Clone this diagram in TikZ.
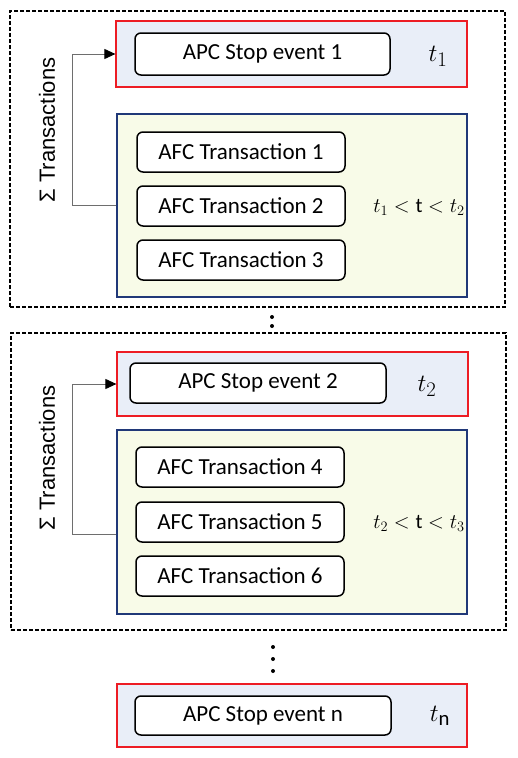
\documentclass[tikz,border=0pt]{standalone}
\usepackage{fontspec}
\setmainfont{Carlito}
\newfontfamily\sumfont{Liberation Sans}
\usepackage{tikz}
\usetikzlibrary{arrows.meta, positioning, calc}
\definecolor{stopred}{RGB}{237,28,36}
\definecolor{stopfill}{RGB}{233,238,248}
\definecolor{winblue}{RGB}{32,56,120}
\definecolor{winfill}{RGB}{248,251,232}
\definecolor{linkgray}{RGB}{110,110,110}

\begin{document}
\begin{tikzpicture}[x=1pt, y=-1pt,
    section/.style={draw, line width=1.3pt, dash pattern=on 4pt off 2pt},
    stopbox/.style={draw=stopred, line width=1.2pt, fill=stopfill},
    winbox/.style={draw=winblue, line width=1.2pt, fill=winfill},
    item/.style={draw, line width=1.5pt, rounded corners=6pt, fill=white, font=\fontsize{23}{26}\selectfont},
    tlabel/.style={font=\Huge},
    condlabel/.style={font=\huge},
    sumlabel/.style={rotate=90, font=\sumfont\fontsize{22}{26}\selectfont},
    link/.style={draw=linkgray, line width=0.9pt, -{Triangle[length=11pt, width=10pt, color=black]}}]
    \useasboundingbox (0,0) rectangle (517,758);

    % first block
    \node[section, minimum width=495pt, minimum height=296pt] (sec1) at (257.5,159) {};
    \node[stopbox, minimum width=351pt, minimum height=66pt] (ev1) at (291.5,54) {};
    \node[item, minimum width=255pt, minimum height=42pt] (apc1) at (262.5,54) {APC Stop event 1};
    \node[tlabel] (t1) at (438,56) {$t_1$};
    \node[winbox, minimum width=350pt, minimum height=183pt] (win1) at (292,205.5) {};
    \node[item, minimum width=208pt, minimum height=40pt] (afc1) at (241,152) {AFC Transaction 1};
    \node[item, minimum width=208pt, minimum height=40pt] (afc2) at (241,206) {AFC Transaction 2};
    \node[item, minimum width=208pt, minimum height=40pt] (afc3) at (241,260) {AFC Transaction 3};
    \node[condlabel] (cond1) at (419,207) {$t_1 < \mathrm{t} < t_2$};
    \node[sumlabel] (sum1) at (47,130) {Σ Transactions};
    \draw[link] (win1.west) -- ++(-44,0) |- (ev1.west);

    % dots
    \fill (272,317) circle (2pt) (272,326) circle (2pt);

    % second block
    \node[section, minimum width=495pt, minimum height=297pt] (sec2) at (258.5,481.5) {};
    \node[stopbox, minimum width=351pt, minimum height=64pt] (ev2) at (292.5,384) {};
    \node[item, minimum width=256pt, minimum height=40pt] (apc2) at (258,383) {APC Stop event 2};
    \node[tlabel] (t2) at (427,386) {$t_2$};
    \node[winbox, minimum width=350pt, minimum height=184pt] (win2) at (292,522) {};
    \node[item, minimum width=208pt, minimum height=40pt] (afc4) at (240,467) {AFC Transaction 4};
    \node[item, minimum width=208pt, minimum height=40pt] (afc5) at (240,522) {AFC Transaction 5};
    \node[item, minimum width=208pt, minimum height=40pt] (afc6) at (240,576) {AFC Transaction 6};
    \node[condlabel] (cond2) at (419,523) {$t_2 < \mathrm{t} < t_3$};
    \node[sumlabel] (sum2) at (47,458) {Σ Transactions};
    \coordinate (link2) at ([yshift=-12pt]win2.west);
    \draw[link] (link2) -- ++(-44,0) |- (ev2.west);

    % dots
    \fill (273,647) circle (2pt) (273,659) circle (2pt) (273,671) circle (2pt);

    % last stop event
    \node[stopbox, minimum width=350pt, minimum height=63pt] (evn) at (292,715.5) {};
    \node[item, minimum width=256pt, minimum height=39pt] (apcn) at (263,715.5) {APC Stop event n};
    \node[tlabel] (tn) at (440,716) {$t_{\mathrm{n}}$};
\end{tikzpicture}
\end{document}
